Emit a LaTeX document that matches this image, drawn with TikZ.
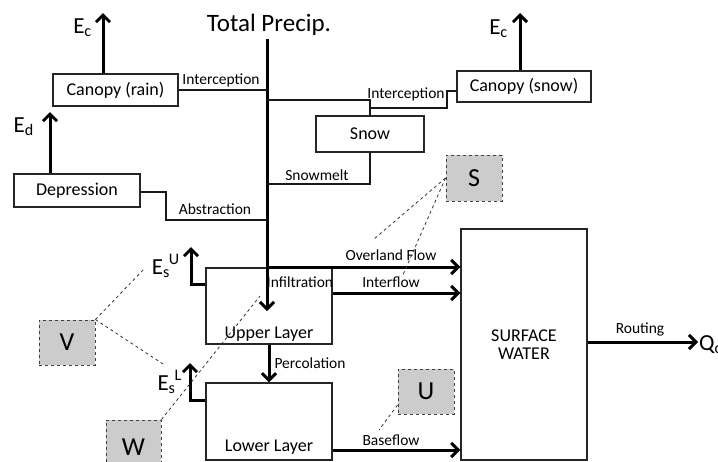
\documentclass[tikz,border=0pt]{standalone}
\usepackage{fontspec}
\setmainfont{Carlito}
\usetikzlibrary{arrows.meta}
\begin{document}
\begin{tikzpicture}[x=1pt,y=-1pt,
  box/.style={draw=black!85, line width=1.4pt, rectangle, inner sep=0pt, font=\fontsize{18}{20}\selectfont},
  gbox/.style={draw=black!75, dashed, fill=black!20, line width=0.9pt, rectangle, inner sep=0pt, font=\fontsize{26}{28}\selectfont},
  lab/.style={font=\fontsize{15.5}{17}\selectfont, inner sep=0pt},
  big/.style={font=\fontsize{23}{25}\selectfont, inner sep=0pt},
  conn/.style={line width=2pt, black!90},
  arr/.style={line width=3pt, -{Straight Barb[length=7pt,width=14pt]}},
  dl/.style={dashed, line width=0.8pt, black!80}
]
\useasboundingbox (0,0) rectangle (718,461);
% boxes
\node[box, minimum width=125pt, minimum height=32pt] (crain) at (115.5,90) {Canopy (rain)};
\node[box, minimum width=134pt, minimum height=31pt] (csnow) at (524,86.5) {Canopy (snow)};
\node[box, minimum width=108pt, minimum height=36pt] (snow) at (370,134) {Snow};
\node[box, minimum width=126pt, minimum height=33pt] (dep) at (77,190.5) {Depression};
\node[box, minimum width=126pt, minimum height=76pt] (upper) at (269,306) {};
\node[box, minimum width=126pt, minimum height=77pt] (lower) at (269,421.5) {};
\node[box, minimum width=126pt, minimum height=231pt, align=center] (sw) at (524,344.5) {SURFACE\\[-2pt]WATER};
\node[font=\fontsize{18}{20}\selectfont, inner sep=0pt] (ul) at (269,334) {Upper Layer};
\node[font=\fontsize{18}{20}\selectfont, inner sep=0pt] (ll) at (269,447) {Lower Layer};
% gray boxes
\node[gbox, minimum width=56pt, minimum height=46pt] (S) at (474,178) {S};
\node[gbox, minimum width=56pt, minimum height=45pt] (V) at (67,342.5) {V};
\node[gbox, minimum width=56pt, minimum height=45pt] (U) at (426,391.5) {U};
\node[gbox, minimum width=55pt, minimum height=55pt] (W) at (133.5,447.5) {W};
% titles / outputs
\node[font=\fontsize{25}{27}\selectfont, inner sep=0pt] (tp) at (269,25) {Total Precip.};
\node[big, anchor=base east] (ec1) at (92,33) {E\textsubscript{c}};
\node[big, anchor=base east] (ec2) at (508,34) {E\textsubscript{c}};
\node[big, anchor=base east] (ed) at (34,132) {E\textsubscript{d}};
\node[big, anchor=base east] (esu) at (180,274) {E\textsubscript{s}\kern-1pt\textsuperscript{U}};
\node[big, anchor=base east] (esl) at (182,390) {E\textsubscript{s}\kern-1pt\textsuperscript{L}};
\node[big, anchor=base west] (q) at (699,350) {Q\textsubscript{c}};
% labels
\node[lab] (li1) at (221,80) {Interception};
\node[lab] (li2) at (406,94) {Interception};
\node[lab] (lsm) at (317,175) {Snowmelt};
\node[lab] (lab) at (215,209) {Abstraction};
\node[lab] (linf) at (300,282) {Infiltration};
\node[lab] (lperc) at (310,363) {Percolation};
\node[lab] (lof) at (391,255) {Overland Flow};
\node[lab] (lif) at (391,282) {Interflow};
\node[lab] (lbf) at (391,440) {Baseflow};
\node[lab] (lrt) at (640,329) {Routing};
% coordinates
\coordinate (top) at (267,39);
\coordinate (tip) at (267,311);
\coordinate (a1) at (447,108);
\coordinate (a2) at (447,91);
\coordinate (b1) at (166,192);
\coordinate (b2) at (166,220);
\coordinate (esuc) at (191,284);
\coordinate (eslc) at (190,400);
% main precipitation line
\draw[arr] (top) -- (tip);
% branches
\draw[conn] (crain.east |- 0,90) -- (top |- 0,90);
\draw[conn] (top |- 0,100) -| (snow.north);
\draw[conn] (snow.north |- a1) -- (a1) -- (a2) -- (csnow.west |- a2);
\draw[conn] (snow.south) |- (top |- 0,184);
\draw[conn] (dep.east |- b1) -- (b1) -- (b2) -- (top |- b2);
% overland / interflow / baseflow
\draw[arr] (top |- 0,267) -- (sw.west |- 0,267);
\draw[arr] (upper.east |- 0,293) -- (sw.west |- 0,293);
\draw[arr] (lower.east |- 0,450) -- (sw.west |- 0,450);
\draw[arr] (sw.east |- 0,342) -- (698,342);
% percolation
\draw[arr] (upper.south) -- (lower.north);
% evaporation arrows
\draw[arr] (crain.north -| 103,0) -- (103,13);
\draw[arr] (csnow.north -| 520,0) -- (520,13);
\draw[arr] (dep.north -| 50,0) -- (50,112);
\draw[arr] (upper.west |- esuc) -- (esuc) -- (191,247);
\draw[arr] (lower.west |- eslc) -- (eslc) -- (190,363);
% dashed pointers
\draw[dl] (S.west) -- (374,239);
\draw[dl] (S.west) -- (402,277);
\draw[dl] (V.north east) -- (145,268);
\draw[dl] (V.north east) -- (163,364);
\draw[dl] (W.north east) -- (260,296);
\draw[dl] (U.west |- 0,405) -- (379,430);
\end{tikzpicture}
\end{document}
